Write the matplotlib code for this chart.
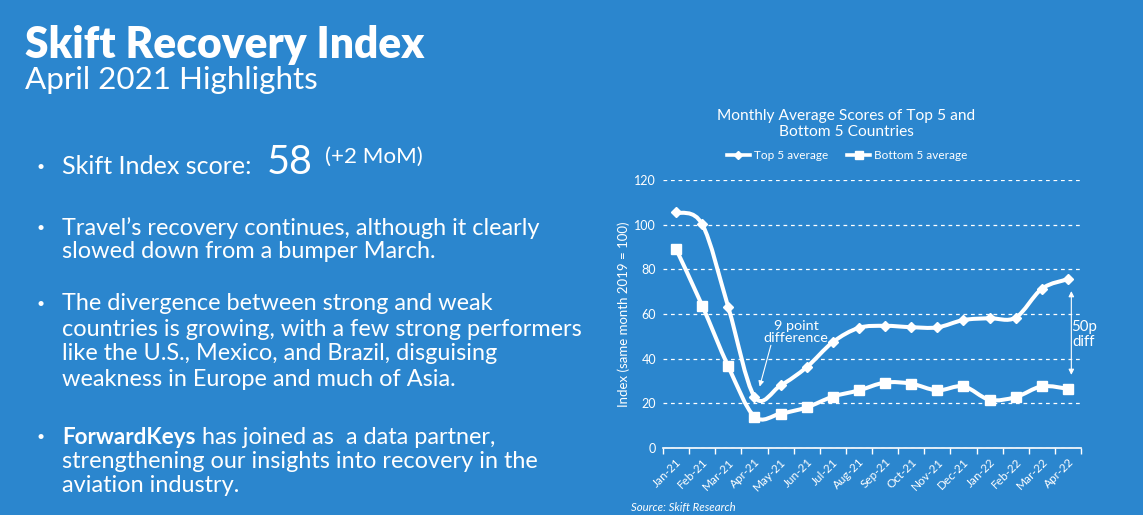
import numpy as np
import matplotlib

matplotlib.use("Agg")
import matplotlib.pyplot as plt
from matplotlib.path import Path
from matplotlib.patches import PathPatch

# chart data
months = ["Jan-21", "Feb-21", "Mar-21", "Apr-21", "May-21", "Jun-21", "Jul-21", "Aug-21",
          "Sep-21", "Oct-21", "Nov-21", "Dec-21", "Jan-22", "Feb-22", "Mar-22", "Apr-22"]
top5 = [105.5, 100.2, 63.0, 23.0, 28.0, 36.2, 47.4, 53.8, 54.7, 54.1, 54.0, 57.3, 58.1, 58.4, 71.3, 75.6]
bottom5 = [89.1, 63.8, 36.5, 14.1, 15.4, 18.2, 23.0, 25.8, 29.3, 28.8, 25.8, 27.6, 21.6, 22.8, 27.6, 26.5]
yticks = [0, 20, 40, 60, 80, 100, 120]

BG = "#2B86CE"
W, H = 1143, 515
FONT = "Lato"


def fx(px):
    return px / W


def fy(py):
    return 1 - py / H


def smooth_path(xs, ys):
    # excel-style smoothed line: cubic bezier through every point
    pts = np.column_stack([xs, ys]).astype(float)
    n = len(pts)
    verts = [pts[0]]
    codes = [Path.MOVETO]
    for i in range(n - 1):
        p0 = pts[max(i - 1, 0)]
        p1 = pts[i]
        p2 = pts[i + 1]
        p3 = pts[min(i + 2, n - 1)]
        c1 = p1 + (p2 - p0) / 6.0
        c2 = p2 - (p3 - p1) / 6.0
        verts += [c1, c2, p2]
        codes += [Path.CURVE4] * 3
    return Path(verts, codes)


fig = plt.figure(figsize=(W / 100, H / 100), dpi=100, facecolor=BG)
renderer = fig.canvas.get_renderer()


def fit_text(px, py, s, width_px, **kw):
    # place text, then rescale the font so it spans width_px like the slide
    t = fig.text(fx(px), fy(py), s, **kw)
    w = t.get_window_extent(renderer).width
    t.set_fontsize(t.get_fontsize() * width_px / w)
    return t


base = dict(family=FONT, fontsize=15, color="white", va="center", ha="left")

# ---- left side text ----
fit_text(25, 45, "Skift Recovery Index", 402, **dict(base, weight="heavy"))
fit_text(25, 80, "April 2021 Highlights", 293, **base)

bullet_x = 36
text_x = 62
line_gap = 25

t = fit_text(text_x, 228, "Travel\u2019s recovery continues, although it clearly", 478, **base)
body = dict(base, fontsize=t.get_fontsize())
dot = dict(base, fontsize=10)

fig.text(fx(bullet_x), fy(167), "•", **dot)
fit_text(text_x, 167, "Skift Index score:", 190, **base)
fit_text(267, 162, "58", 46, **base)
fit_text(325, 157, "(+2 MoM)", 98, **base)

fig.text(fx(bullet_x), fy(228), "•", **dot)
fig.text(fx(text_x), fy(252), "slowed down from a bumper March.", **body)

para3 = ["The divergence between strong and weak",
         "countries is growing, with a few strong performers",
         "like the U.S., Mexico, and Brazil, disguising",
         "weakness in Europe and much of Asia."]
fig.text(fx(bullet_x), fy(304), "•", **dot)
for k, ln in enumerate(para3):
    fig.text(fx(text_x), fy(304 + k * line_gap), ln, **body)

fig.text(fx(bullet_x), fy(437), "•", **dot)
fit_text(text_x, 437, "ForwardKeys", 134, **dict(base, weight="bold"))
fig.text(fx(202), fy(437), "has joined as  a data partner,", **body)
fig.text(fx(text_x), fy(461), "strengthening our insights into recovery in the", **body)
fig.text(fx(text_x), fy(486), "aviation industry.", **body)

# ---- chart ----
ax = fig.add_axes([fx(663), fy(448), (1081 - 663) / W, (448 - 180) / H])
ax.set_facecolor(BG)
x = np.arange(len(months))

for vals, mk, ms, lab in [(top5, "D", 5.5, "Top 5 average"), (bottom5, "s", 7, "Bottom 5 average")]:
    ax.add_patch(PathPatch(smooth_path(x, vals), facecolor="none", edgecolor="white",
                           lw=2.9, capstyle="round", joinstyle="round", zorder=3))
    ax.plot(x, vals, linestyle="none", marker=mk, ms=ms, color="white", zorder=4)
    ax.plot([], [], marker=mk, ms=ms * 0.75, color="white", lw=2.6, label=lab)

ax.set_xlim(-0.5, len(months) - 0.5)
ax.set_ylim(0, 120)
ax.set_yticks(yticks)
ax.yaxis.grid(True, color="white", linestyle=(0, (3, 3)), lw=0.9)
ax.set_axisbelow(True)

ax.set_xticks(x)
ax.set_xticklabels(months, rotation=45, ha="right", rotation_mode="anchor",
                   family=FONT, fontsize=8.5, color="white")
ax.set_xticks(np.arange(-0.5, len(months)), minor=True)
ax.tick_params(axis="x", which="major", length=0, pad=6)
ax.tick_params(axis="x", which="minor", length=4, color="white", width=1)
ax.tick_params(axis="y", length=0, pad=5, labelcolor="white", labelsize=9)
for t in ax.get_yticklabels():
    t.set_family(FONT)

for s in ["top", "right", "left"]:
    ax.spines[s].set_visible(False)
ax.spines["bottom"].set_color("white")
ax.spines["bottom"].set_linewidth(1.2)

ax.set_ylabel("Index (same month 2019 = 100)", family=FONT, fontsize=9.5,
              color="white", labelpad=3)

ax.set_title("Monthly Average Scores of Top 5 and\nBottom 5 Countries", family=FONT,
             fontsize=11.2, color="white", pad=32, linespacing=1.15,
             x=(846 - 663) / 418)

leg = ax.legend(loc="lower center", bbox_to_anchor=(0.44, 1.03), ncol=2, frameon=False,
                prop=dict(family=FONT, size=8.5), labelcolor="white", handlelength=2.0,
                handletextpad=0.3, columnspacing=1.6)

# annotations
ax.annotate("", xy=(3.2, 27.5), xytext=(3.63, 46.0),
            arrowprops=dict(arrowstyle="-|>", color="white", lw=0.8, mutation_scale=8,
                            shrinkA=0, shrinkB=0))
ax.text(4.6, 52, "9 point\ndifference", ha="center", va="center", family=FONT,
        fontsize=10.4, color="white", linespacing=1.0)
ax.annotate("", xy=(15.13, 31.5), xytext=(15.13, 71.5),
            arrowprops=dict(arrowstyle="<|-|>", color="white", lw=0.8, mutation_scale=8),
            annotation_clip=False)
ax.text(15.6, 51, "50p\ndiff", ha="center", va="center", family=FONT,
        fontsize=10.8, color="white", linespacing=1.1, clip_on=False)

fig.text(fx(631), fy(508), "Source: Skift Research", family=FONT, style="italic",
         fontsize=8.2, color="white", va="center", ha="left")

fig.savefig("out.png", dpi=100, facecolor=BG)
